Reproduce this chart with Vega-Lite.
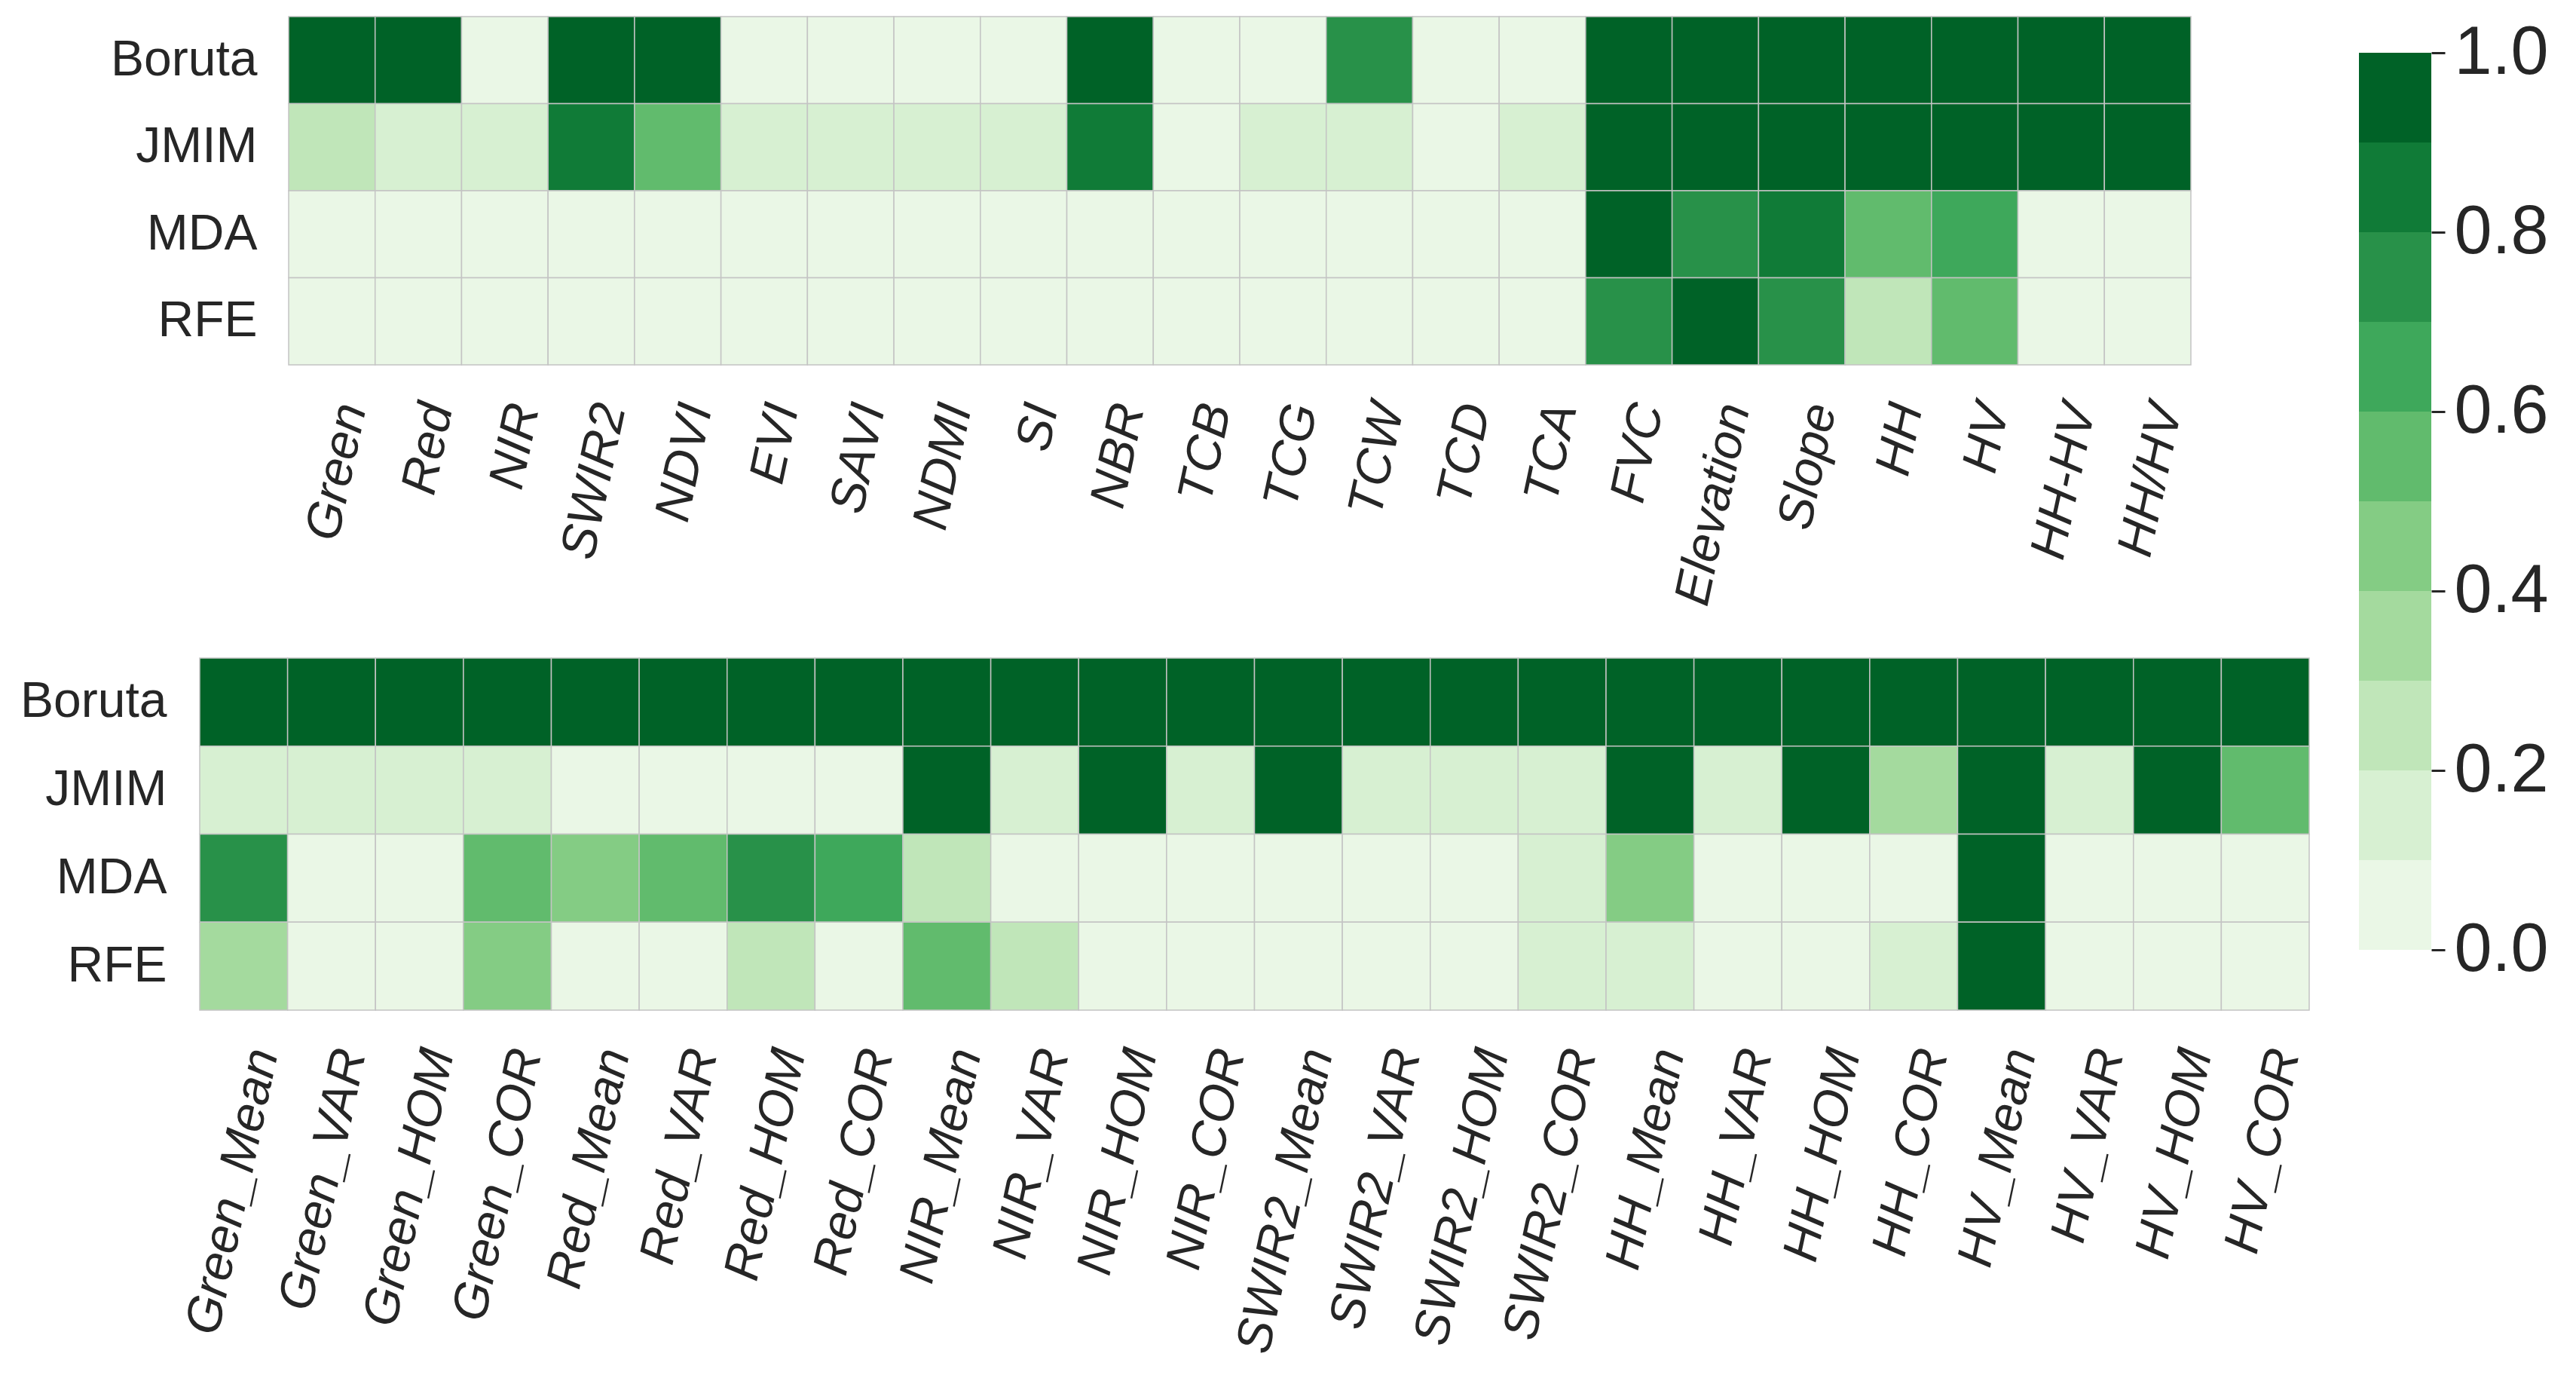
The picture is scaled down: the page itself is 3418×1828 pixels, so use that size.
{
  "$schema": "https://vega.github.io/schema/vega-lite/v6.json",
  "background": "white",
  "padding": {"left": 26, "top": 21, "right": 5, "bottom": 5},
  "config": {
    "view": {"stroke": null},
    "font": "Liberation Sans",
    "axis": {"labelFont": "Liberation Sans", "labelColor": "#262626", "domain": false, "ticks": false, "grid": false, "title": null, "labelLimit": 0}
  },
  "datasets": {
    "top": [
      {"m":"Boruta","f":"Green","v":1},{"m":"Boruta","f":"Red","v":1},{"m":"Boruta","f":"NIR","v":0.05},{"m":"Boruta","f":"SWIR2","v":1},{"m":"Boruta","f":"NDVI","v":1},{"m":"Boruta","f":"EVI","v":0.05},{"m":"Boruta","f":"SAVI","v":0.05},{"m":"Boruta","f":"NDMI","v":0.05},{"m":"Boruta","f":"SI","v":0.05},{"m":"Boruta","f":"NBR","v":1},{"m":"Boruta","f":"TCB","v":0.05},{"m":"Boruta","f":"TCG","v":0.05},{"m":"Boruta","f":"TCW","v":0.75},{"m":"Boruta","f":"TCD","v":0.05},{"m":"Boruta","f":"TCA","v":0.05},{"m":"Boruta","f":"FVC","v":1},{"m":"Boruta","f":"Elevation","v":1},{"m":"Boruta","f":"Slope","v":1},{"m":"Boruta","f":"HH","v":1},{"m":"Boruta","f":"HV","v":1},{"m":"Boruta","f":"HH-HV","v":1},{"m":"Boruta","f":"HH/HV","v":1},
      {"m":"JMIM","f":"Green","v":0.25},{"m":"JMIM","f":"Red","v":0.15},{"m":"JMIM","f":"NIR","v":0.15},{"m":"JMIM","f":"SWIR2","v":0.85},{"m":"JMIM","f":"NDVI","v":0.55},{"m":"JMIM","f":"EVI","v":0.15},{"m":"JMIM","f":"SAVI","v":0.15},{"m":"JMIM","f":"NDMI","v":0.15},{"m":"JMIM","f":"SI","v":0.15},{"m":"JMIM","f":"NBR","v":0.85},{"m":"JMIM","f":"TCB","v":0.05},{"m":"JMIM","f":"TCG","v":0.15},{"m":"JMIM","f":"TCW","v":0.15},{"m":"JMIM","f":"TCD","v":0.05},{"m":"JMIM","f":"TCA","v":0.15},{"m":"JMIM","f":"FVC","v":1},{"m":"JMIM","f":"Elevation","v":1},{"m":"JMIM","f":"Slope","v":1},{"m":"JMIM","f":"HH","v":1},{"m":"JMIM","f":"HV","v":1},{"m":"JMIM","f":"HH-HV","v":1},{"m":"JMIM","f":"HH/HV","v":1},
      {"m":"MDA","f":"Green","v":0.05},{"m":"MDA","f":"Red","v":0.05},{"m":"MDA","f":"NIR","v":0.05},{"m":"MDA","f":"SWIR2","v":0.05},{"m":"MDA","f":"NDVI","v":0.05},{"m":"MDA","f":"EVI","v":0.05},{"m":"MDA","f":"SAVI","v":0.05},{"m":"MDA","f":"NDMI","v":0.05},{"m":"MDA","f":"SI","v":0.05},{"m":"MDA","f":"NBR","v":0.05},{"m":"MDA","f":"TCB","v":0.05},{"m":"MDA","f":"TCG","v":0.05},{"m":"MDA","f":"TCW","v":0.05},{"m":"MDA","f":"TCD","v":0.05},{"m":"MDA","f":"TCA","v":0.05},{"m":"MDA","f":"FVC","v":1},{"m":"MDA","f":"Elevation","v":0.75},{"m":"MDA","f":"Slope","v":0.85},{"m":"MDA","f":"HH","v":0.55},{"m":"MDA","f":"HV","v":0.65},{"m":"MDA","f":"HH-HV","v":0.05},{"m":"MDA","f":"HH/HV","v":0.05},
      {"m":"RFE","f":"Green","v":0.05},{"m":"RFE","f":"Red","v":0.05},{"m":"RFE","f":"NIR","v":0.05},{"m":"RFE","f":"SWIR2","v":0.05},{"m":"RFE","f":"NDVI","v":0.05},{"m":"RFE","f":"EVI","v":0.05},{"m":"RFE","f":"SAVI","v":0.05},{"m":"RFE","f":"NDMI","v":0.05},{"m":"RFE","f":"SI","v":0.05},{"m":"RFE","f":"NBR","v":0.05},{"m":"RFE","f":"TCB","v":0.05},{"m":"RFE","f":"TCG","v":0.05},{"m":"RFE","f":"TCW","v":0.05},{"m":"RFE","f":"TCD","v":0.05},{"m":"RFE","f":"TCA","v":0.05},{"m":"RFE","f":"FVC","v":0.75},{"m":"RFE","f":"Elevation","v":1},{"m":"RFE","f":"Slope","v":0.75},{"m":"RFE","f":"HH","v":0.25},{"m":"RFE","f":"HV","v":0.55},{"m":"RFE","f":"HH-HV","v":0.05},{"m":"RFE","f":"HH/HV","v":0.05}
    ],
    "bottom": [
      {"m":"Boruta","f":"Green_Mean","v":1},{"m":"Boruta","f":"Green_VAR","v":1},{"m":"Boruta","f":"Green_HOM","v":1},{"m":"Boruta","f":"Green_COR","v":1},{"m":"Boruta","f":"Red_Mean","v":1},{"m":"Boruta","f":"Red_VAR","v":1},{"m":"Boruta","f":"Red_HOM","v":1},{"m":"Boruta","f":"Red_COR","v":1},{"m":"Boruta","f":"NIR_Mean","v":1},{"m":"Boruta","f":"NIR_VAR","v":1},{"m":"Boruta","f":"NIR_HOM","v":1},{"m":"Boruta","f":"NIR_COR","v":1},{"m":"Boruta","f":"SWIR2_Mean","v":1},{"m":"Boruta","f":"SWIR2_VAR","v":1},{"m":"Boruta","f":"SWIR2_HOM","v":1},{"m":"Boruta","f":"SWIR2_COR","v":1},{"m":"Boruta","f":"HH_Mean","v":1},{"m":"Boruta","f":"HH_VAR","v":1},{"m":"Boruta","f":"HH_HOM","v":1},{"m":"Boruta","f":"HH_COR","v":1},{"m":"Boruta","f":"HV_Mean","v":1},{"m":"Boruta","f":"HV_VAR","v":1},{"m":"Boruta","f":"HV_HOM","v":1},{"m":"Boruta","f":"HV_COR","v":1},
      {"m":"JMIM","f":"Green_Mean","v":0.15},{"m":"JMIM","f":"Green_VAR","v":0.15},{"m":"JMIM","f":"Green_HOM","v":0.15},{"m":"JMIM","f":"Green_COR","v":0.15},{"m":"JMIM","f":"Red_Mean","v":0.05},{"m":"JMIM","f":"Red_VAR","v":0.05},{"m":"JMIM","f":"Red_HOM","v":0.05},{"m":"JMIM","f":"Red_COR","v":0.05},{"m":"JMIM","f":"NIR_Mean","v":1},{"m":"JMIM","f":"NIR_VAR","v":0.15},{"m":"JMIM","f":"NIR_HOM","v":1},{"m":"JMIM","f":"NIR_COR","v":0.15},{"m":"JMIM","f":"SWIR2_Mean","v":1},{"m":"JMIM","f":"SWIR2_VAR","v":0.15},{"m":"JMIM","f":"SWIR2_HOM","v":0.15},{"m":"JMIM","f":"SWIR2_COR","v":0.15},{"m":"JMIM","f":"HH_Mean","v":1},{"m":"JMIM","f":"HH_VAR","v":0.15},{"m":"JMIM","f":"HH_HOM","v":1},{"m":"JMIM","f":"HH_COR","v":0.35},{"m":"JMIM","f":"HV_Mean","v":1},{"m":"JMIM","f":"HV_VAR","v":0.15},{"m":"JMIM","f":"HV_HOM","v":1},{"m":"JMIM","f":"HV_COR","v":0.55},
      {"m":"MDA","f":"Green_Mean","v":0.75},{"m":"MDA","f":"Green_VAR","v":0.05},{"m":"MDA","f":"Green_HOM","v":0.05},{"m":"MDA","f":"Green_COR","v":0.55},{"m":"MDA","f":"Red_Mean","v":0.45},{"m":"MDA","f":"Red_VAR","v":0.55},{"m":"MDA","f":"Red_HOM","v":0.75},{"m":"MDA","f":"Red_COR","v":0.65},{"m":"MDA","f":"NIR_Mean","v":0.25},{"m":"MDA","f":"NIR_VAR","v":0.05},{"m":"MDA","f":"NIR_HOM","v":0.05},{"m":"MDA","f":"NIR_COR","v":0.05},{"m":"MDA","f":"SWIR2_Mean","v":0.05},{"m":"MDA","f":"SWIR2_VAR","v":0.05},{"m":"MDA","f":"SWIR2_HOM","v":0.05},{"m":"MDA","f":"SWIR2_COR","v":0.15},{"m":"MDA","f":"HH_Mean","v":0.45},{"m":"MDA","f":"HH_VAR","v":0.05},{"m":"MDA","f":"HH_HOM","v":0.05},{"m":"MDA","f":"HH_COR","v":0.05},{"m":"MDA","f":"HV_Mean","v":1},{"m":"MDA","f":"HV_VAR","v":0.05},{"m":"MDA","f":"HV_HOM","v":0.05},{"m":"MDA","f":"HV_COR","v":0.05},
      {"m":"RFE","f":"Green_Mean","v":0.35},{"m":"RFE","f":"Green_VAR","v":0.05},{"m":"RFE","f":"Green_HOM","v":0.05},{"m":"RFE","f":"Green_COR","v":0.45},{"m":"RFE","f":"Red_Mean","v":0.05},{"m":"RFE","f":"Red_VAR","v":0.05},{"m":"RFE","f":"Red_HOM","v":0.25},{"m":"RFE","f":"Red_COR","v":0.05},{"m":"RFE","f":"NIR_Mean","v":0.55},{"m":"RFE","f":"NIR_VAR","v":0.25},{"m":"RFE","f":"NIR_HOM","v":0.05},{"m":"RFE","f":"NIR_COR","v":0.05},{"m":"RFE","f":"SWIR2_Mean","v":0.05},{"m":"RFE","f":"SWIR2_VAR","v":0.05},{"m":"RFE","f":"SWIR2_HOM","v":0.05},{"m":"RFE","f":"SWIR2_COR","v":0.15},{"m":"RFE","f":"HH_Mean","v":0.15},{"m":"RFE","f":"HH_VAR","v":0.05},{"m":"RFE","f":"HH_HOM","v":0.05},{"m":"RFE","f":"HH_COR","v":0.15},{"m":"RFE","f":"HV_Mean","v":1},{"m":"RFE","f":"HV_VAR","v":0.05},{"m":"RFE","f":"HV_HOM","v":0.05},{"m":"RFE","f":"HV_COR","v":0.05}
    ],
    "bar": [
      {"lo":0.0,"hi":0.1,"mid":0.05},{"lo":0.1,"hi":0.2,"mid":0.15},{"lo":0.2,"hi":0.3,"mid":0.25},{"lo":0.3,"hi":0.4,"mid":0.35},{"lo":0.4,"hi":0.5,"mid":0.45},
      {"lo":0.5,"hi":0.6,"mid":0.55},{"lo":0.6,"hi":0.7,"mid":0.65},{"lo":0.7,"hi":0.8,"mid":0.75},{"lo":0.8,"hi":0.9,"mid":0.85},{"lo":0.9,"hi":1.0,"mid":0.95}
    ]
  },
  "spacing": 65,
  "hconcat": [
    {
      "spacing": 63,
      "vconcat": [
        {
          "data": {"name": "top"},
          "width": 2642,
          "height": 462,
          "mark": {"type": "rect", "stroke": "#c4c4c4", "strokeWidth": 1.5},
          "encoding": {
            "x": {
              "field": "f", "type": "nominal",
              "sort": ["Green","Red","NIR","SWIR2","NDVI","EVI","SAVI","NDMI","SI","NBR","TCB","TCG","TCW","TCD","TCA","FVC","Elevation","Slope","HH","HV","HH-HV","HH/HV"],
              "scale": {"range": [118, 2642], "paddingInner": 0, "paddingOuter": 0},
              "axis": {
                "labelAngle": -78, "labelAlign": "right", "labelBaseline": "middle",
                "labelFontSize": 66, "labelFontStyle": "italic", "labelPadding": 52, "labelOffset": 26,
                "encode": {"labels": {"update": {"dx": {"signal": "10.4 + length(datum.label) * 1.66"}, "dy": {"signal": "48.9 + length(datum.label) * 7.82"}}}}
              }
            },
            "y": {
              "field": "m", "type": "nominal",
              "sort": ["Boruta","JMIM","MDA","RFE"],
              "scale": {"paddingInner": 0, "paddingOuter": 0},
              "axis": {"labelFontSize": 66, "labelPadding": 42, "offset": -118}
            },
            "color": {
              "field": "v", "type": "quantitative",
              "scale": {"type": "threshold", "domain": [0.1,0.2,0.3,0.4,0.5,0.6,0.7,0.8,0.9],
                        "range": ["#eaf7e6","#d7f0d2","#c0e6b9","#a4da9e","#84cc84","#61bb6d","#3ea85b","#289149","#107b37","#006227"]},
              "legend": null
            }
          }
        },
        {
          "data": {"name": "bottom"},
          "width": 2799,
          "height": 467,
          "mark": {"type": "rect", "stroke": "#c4c4c4", "strokeWidth": 1.5},
          "encoding": {
            "x": {
              "field": "f", "type": "nominal",
              "sort": ["Green_Mean","Green_VAR","Green_HOM","Green_COR","Red_Mean","Red_VAR","Red_HOM","Red_COR","NIR_Mean","NIR_VAR","NIR_HOM","NIR_COR","SWIR2_Mean","SWIR2_VAR","SWIR2_HOM","SWIR2_COR","HH_Mean","HH_VAR","HH_HOM","HH_COR","HV_Mean","HV_VAR","HV_HOM","HV_COR"],
              "scale": {"paddingInner": 0, "paddingOuter": 0},
              "axis": {
                "labelAngle": -78, "labelAlign": "right", "labelBaseline": "middle",
                "labelFontSize": 66, "labelFontStyle": "italic", "labelPadding": 52, "labelOffset": 26,
                "encode": {"labels": {"update": {"dx": {"signal": "10.4 + length(datum.label) * 1.66"}, "dy": {"signal": "48.9 + length(datum.label) * 7.82"}}}}
              }
            },
            "y": {
              "field": "m", "type": "nominal",
              "sort": ["Boruta","JMIM","MDA","RFE"],
              "scale": {"paddingInner": 0, "paddingOuter": 0},
              "axis": {"labelFontSize": 66, "labelPadding": 44}
            },
            "color": {
              "field": "v", "type": "quantitative",
              "scale": {"type": "threshold", "domain": [0.1,0.2,0.3,0.4,0.5,0.6,0.7,0.8,0.9],
                        "range": ["#eaf7e6","#d7f0d2","#c0e6b9","#a4da9e","#84cc84","#61bb6d","#3ea85b","#289149","#107b37","#006227"]},
              "legend": null
            }
          }
        }
      ]
    },
    {
      "data": {"name": "bar"},
      "width": 96,
      "height": 1238,
      "mark": {"type": "rect"},
      "encoding": {
        "y": {
          "field": "lo", "type": "quantitative",
          "scale": {"domain": [0, 1.04034], "nice": false, "zero": false},
          "axis": {"orient": "right", "values": [0, 0.2, 0.4, 0.6, 0.8, 1.0], "format": ".1f",
                   "labelFontSize": 90, "ticks": true, "tickSize": 18, "tickWidth": 3, "tickColor": "#262626",
                   "labelPadding": 12, "labelColor": "#262626"}
        },
        "y2": {"field": "hi"},
        "color": {
          "field": "mid", "type": "quantitative",
          "scale": {"type": "threshold", "domain": [0.1,0.2,0.3,0.4,0.5,0.6,0.7,0.8,0.9],
                    "range": ["#eaf7e6","#d7f0d2","#c0e6b9","#a4da9e","#84cc84","#61bb6d","#3ea85b","#289149","#107b37","#006227"]},
          "legend": null
        }
      }
    }
  ]
}
